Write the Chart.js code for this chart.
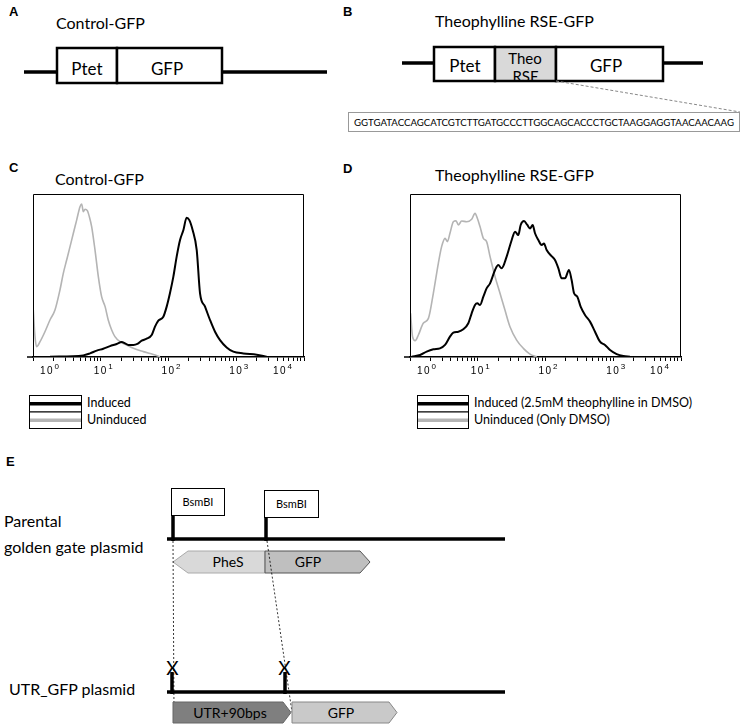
<!DOCTYPE html>
<html><head><meta charset="utf-8">
<script src="https://cdn.jsdelivr.net/npm/chart.js@4"></script>
<style>
body{margin:0;width:743px;height:727px;background:#fff;position:relative;overflow:hidden;font-family:Lato,sans-serif}
#art{position:absolute;left:0;top:0}
.chartbox{position:absolute;width:300px;height:197px}
.lab{font-family:"Liberation Sans",Arial,sans-serif;font-weight:bold;font-size:13px}
</style></head><body>
<svg id="art" width="743" height="727" xmlns="http://www.w3.org/2000/svg" font-family="Lato, sans-serif">
  <!-- Panel A -->
  <text class="lab" x="9" y="16">A</text>
  <text x="56" y="29" font-size="16">Control-GFP</text>
  <line x1="24" y1="72" x2="57" y2="72" stroke="#000" stroke-width="3.5"/>
  <line x1="222" y1="72" x2="327" y2="72" stroke="#000" stroke-width="3.5"/>
  <rect x="57" y="48" width="60" height="35" fill="#fff" stroke="#000" stroke-width="2.5"/>
  <rect x="117" y="48" width="105" height="35" fill="#fff" stroke="#000" stroke-width="2.5"/>
  <text x="87" y="75" font-size="17" text-anchor="middle">Ptet</text>
  <text x="167" y="75" font-size="17" text-anchor="middle">GFP</text>
  <!-- Panel B -->
  <text class="lab" x="343" y="16">B</text>
  <text x="435" y="27" font-size="16">Theophylline RSE-GFP</text>
  <line x1="402" y1="63" x2="434" y2="63" stroke="#000" stroke-width="3.5"/>
  <line x1="663" y1="63" x2="703" y2="63" stroke="#000" stroke-width="3.5"/>
  <rect x="434" y="47" width="61" height="34" fill="#fff" stroke="#000" stroke-width="2.5"/>
  <rect x="495" y="47" width="61" height="34" fill="#d9d9d9" stroke="#000" stroke-width="2.5"/>
  <rect x="556" y="47" width="107" height="34" fill="#fff" stroke="#000" stroke-width="2.5"/>
  <text x="465" y="72" font-size="17" text-anchor="middle">Ptet</text>
  <text x="525" y="64" font-size="15" text-anchor="middle">Theo</text>
  <svg x="496" y="48" width="59" height="32"><text x="29.5" y="34" font-size="15" text-anchor="middle">RSE</text></svg>
  <text x="606" y="72" font-size="17" text-anchor="middle">GFP</text>
  <line x1="556" y1="81" x2="740" y2="112" stroke="#888" stroke-width="1" stroke-dasharray="3,2"/>
  <rect x="348.5" y="112.5" width="391" height="19" fill="#fff" stroke="#999" stroke-width="1"/>
  <text id="seq" x="544" y="125.5" font-size="10" text-anchor="middle" textLength="380" lengthAdjust="spacingAndGlyphs">GGTGATACCAGCATCGTCTTGATGCCCTTGGCAGCACCCTGCTAAGGAGGTAACAACAAG</text>
  <!-- Panel C / D titles -->
  <text class="lab" x="9" y="172">C</text>
  <text x="55" y="185" font-size="16">Control-GFP</text>
  <text class="lab" x="343" y="173">D</text>
  <text x="435" y="181" font-size="16">Theophylline RSE-GFP</text>
  <g id="legends"></g>
  <!-- Panel E -->
  <text class="lab" x="6" y="466">E</text>
  <text x="4" y="527" font-size="16">Parental</text>
  <text x="4" y="553" font-size="16">golden gate plasmid</text>
  <line x1="167" y1="539" x2="505" y2="539" stroke="#000" stroke-width="3.5"/>
  <line x1="173" y1="515" x2="173" y2="541" stroke="#000" stroke-width="3.5"/>
  <line x1="266" y1="517" x2="266" y2="541" stroke="#000" stroke-width="3.5"/>
  <rect x="171.5" y="488.5" width="53" height="27" fill="#fff" stroke="#000" stroke-width="1"/>
  <rect x="264.5" y="490.5" width="54" height="27" fill="#fff" stroke="#000" stroke-width="1"/>
  <text x="198" y="506" font-size="11" text-anchor="middle">BsmBI</text>
  <text x="291.5" y="508" font-size="11" text-anchor="middle">BsmBI</text>
  <polygon points="173,562 188,551 265,551 265,573 188,573" fill="#d9d9d9" stroke="#aaa" stroke-width="1"/>
  <polygon points="265,551 360,551 370,562 360,573 265,573" fill="#bfbfbf" stroke="#555" stroke-width="1"/>
  <text x="228" y="567" font-size="14" text-anchor="middle">PheS</text>
  <text x="308" y="567" font-size="14" text-anchor="middle">GFP</text>
  <line x1="173" y1="541" x2="174" y2="712" stroke="#000" stroke-width="0.8" stroke-dasharray="2,2"/>
  <line x1="267" y1="541" x2="292" y2="712" stroke="#000" stroke-width="0.8" stroke-dasharray="2,2"/>
  <text x="9" y="695" font-size="16">UTR_GFP plasmid</text>
  <line x1="167" y1="692" x2="505" y2="692" stroke="#000" stroke-width="3.5"/>
  <line x1="172" y1="672" x2="172" y2="694" stroke="#000" stroke-width="3.5"/>
  <line x1="285" y1="672" x2="285" y2="694" stroke="#000" stroke-width="3.5"/>
  <text x="172.5" y="675" font-size="19" text-anchor="middle">X</text>
  <text x="284.5" y="675" font-size="19" text-anchor="middle">X</text>
  <polygon points="173,702 283,702 291,712.5 283,723 173,723" fill="#7f7f7f" stroke="#666" stroke-width="1"/>
  <polygon points="292,702 389,702 397,712.5 389,723 292,723" fill="#c9c9c9" stroke="#888" stroke-width="1"/>
  <text x="230" y="718" font-size="14" text-anchor="middle">UTR+90bps</text>
  <text x="341" y="718" font-size="14" text-anchor="middle">GFP</text>
</svg>
<div class="chartbox" style="left:20px;top:190px"><canvas id="c1" width="300" height="197"></canvas></div>
<div class="chartbox" style="left:397px;top:190px"><canvas id="c2" width="300" height="197"></canvas></div>
<script>
// ---- Data (x = fluorescence intensity, y = % of max count) ----
const DECADES = [1, 10, 100, 1000, 10000];
const TICK_BASE = '10';
const TICK_EXPONENTS = ['0', '1', '2', '3', '4'];
const SERIES_NAMES_C = ['Induced', 'Uninduced'];
const SERIES_NAMES_D = ['Induced (2.5mM theophylline in DMSO)', 'Uninduced (Only DMSO)'];

const C_INDUCED_X = [1.78,5.53,6.94,8.71,10.9,13.7,17.2,20.4,22.8,25.5,30.3,34.7,40.2,47.6,56.5,63.2,70.8,83.9,94.0,105,118,132,148,166,185,203,227,261,292,346,410,486,576,722,906,1273,2002,2811];
const C_INDUCED_Y = [0.2,1.0,2.2,3.9,5.1,6.7,8.0,9.2,8.4,7.4,7.4,8.0,10.0,11.2,13.5,18.6,22.3,24.7,30.9,39.1,49.3,61.6,71.8,77.9,85.5,84.0,77.9,65.6,39.1,30.9,22.7,15.5,10.4,5.9,3.3,2.2,1.4,0.2];
const C_UNINDUCED_X = [1.01,1.07,1.13,1.27,1.50,1.78,2.11,2.50,2.80,3.14,3.52,3.94,4.41,4.94,5.23,5.53,5.86,6.34,6.78,7.34,8.23,9.21,10.3,11.6,12.9,14.5,16.2,19.2,24.1,30.3,42.5,59.7,74.9];
const C_UNINDUCED_Y = [28.8,12.5,6.3,9.4,15.5,22.7,28.8,41.1,51.3,59.5,67.7,75.9,84.0,92.2,93.9,89.2,90.6,89.8,86.1,80.0,65.6,49.3,37.0,30.9,22.7,16.6,12.5,9.4,7.4,5.3,3.3,1.6,0.2];

const D_INDUCED_X = [1.06,1.41,1.76,2.21,2.77,3.29,3.89,4.36,5.17,6.12,7.26,8.13,9.11,9.86,10.8,12.1,13.5,15.2,18.0,20.1,22.5,26.7,31.7,35.5,39.7,43.0,48.2,53.9,59.0,64.7,70.0,78.4,87.8,95.0,104,123,138,155,173,194,222,243,264,295,330,383,454,538,637,755,896,1122,1409,1766];
const D_INDUCED_Y = [0.2,1.2,3.3,4.7,5.3,7.4,12.5,14.9,15.5,17.0,20.7,26.8,31.9,32.9,31.9,37.0,42.1,45.2,53.4,56.4,54.4,61.6,71.8,76.9,74.8,81.0,83.4,81.0,78.9,81.0,75.9,71.8,68.7,69.7,65.6,61.9,59.5,54.4,48.3,48.3,53.4,47.2,39.1,37.0,30.9,25.8,21.7,15.5,9.4,7.4,4.3,1.8,0.6,0.2];
const D_UNINDUCED_X = [1.02,1.09,1.19,1.33,1.57,1.87,2.21,2.62,2.93,3.29,3.56,3.89,4.36,4.78,5.17,5.79,6.86,8.13,9.11,9.86,10.8,12.1,13.5,15.2,18.0,21.3,25.2,29.9,37.5,47.1,59.0,74.1];
const D_UNINDUCED_Y = [26.8,12.5,10.0,13.5,20.7,23.7,39.1,57.5,67.7,72.8,70.8,75.9,83.0,83.6,81.0,83.4,83.0,84.5,88.1,85.1,80.0,72.8,70.8,61.6,49.3,39.1,28.8,18.6,10.4,5.3,1.8,0.2];

// ---- helpers ----
const zip = (xs, ys) => xs.map((x, i) => ({x, y: ys[i]}));
const TICK_VALUES = [];
DECADES.forEach((d, i) => { if (i < DECADES.length - 1) { for (let k = 1; k <= 9; k++) TICK_VALUES.push(k * d); } else TICK_VALUES.push(d); });
const isMajor = v => DECADES.some(d => Math.abs(d - v) < 1e-6 * d);

const frame = {
  id: 'frame',
  afterDraw(chart) {
    const {ctx, chartArea: a} = chart;
    const xs = chart.scales.x;
    ctx.save();
    ctx.strokeStyle = '#000'; ctx.lineWidth = 1;
    ctx.beginPath();
    ctx.moveTo(a.left + 0.5, a.bottom); ctx.lineTo(a.left + 0.5, a.top + 0.5);
    ctx.lineTo(a.right - 0.5, a.top + 0.5); ctx.lineTo(a.right - 0.5, a.bottom);
    ctx.stroke();
    ctx.lineWidth = 1.5;
    ctx.beginPath(); ctx.moveTo(a.left - 6, a.bottom); ctx.lineTo(a.left, a.bottom); ctx.stroke();
    // decade labels: "10" with a raised exponent, drawn at the scale's own pixel for each decade
    ctx.fillStyle = '#000'; ctx.textBaseline = 'alphabetic'; ctx.textAlign = 'left';
    const baseFont = '10px "Liberation Sans", Arial, sans-serif';
    const expFont = '8px "Liberation Sans", Arial, sans-serif';
    if ('letterSpacing' in ctx) ctx.letterSpacing = '1.5px';
    DECADES.forEach((d, i) => {
      const px = xs.getPixelForValue(d);
      ctx.font = baseFont; const w1 = ctx.measureText(TICK_BASE).width;
      ctx.font = expFont; const w2 = ctx.measureText(TICK_EXPONENTS[i]).width;
      let start = px - w1 / 2;
      if (i === 0) start = px + 7;
      if (i === DECADES.length - 1) start = px - 11 - (w1 + w2);
      const yb = a.bottom + 17;
      ctx.font = baseFont; ctx.fillText(TICK_BASE, start, yb);
      ctx.font = expFont; ctx.fillText(TICK_EXPONENTS[i], start + w1 + 0.5, yb - 5);
    });
    ctx.restore();
  }
};

function makeChart(id, names, indX, indY, unX, unY) {
  return new Chart(document.getElementById(id), {
    type: 'line',
    data: {
      datasets: [
        {label: names[0], data: zip(indX, indY), borderColor: '#000', borderWidth: 2, pointRadius: 0, cubicInterpolationMode: 'monotone', fill: false},
        {label: names[1], data: zip(unX, unY), borderColor: '#b4b4b4', borderWidth: 1.6, pointRadius: 0, cubicInterpolationMode: 'monotone', fill: false}
      ]
    },
    options: {
      responsive: false, animation: false, events: [],
      layout: {padding: {left: 13, right: 16, top: 4, bottom: 0}},
      plugins: {legend: {display: false}, tooltip: {enabled: false}},
      scales: {
        x: {
          type: 'logarithmic', min: DECADES[0], max: DECADES[DECADES.length - 1],
          afterBuildTicks: s => { s.ticks = TICK_VALUES.map(v => ({value: v})); },
          afterFit: s => { s.height = 30; },
          grid: {display: true, drawOnChartArea: false, drawTicks: true, tickLength: 4, tickColor: '#000', tickWidth: 1},
          border: {display: true, color: '#000', width: 1.5},
          ticks: {autoSkip: false, maxRotation: 0, minRotation: 0, callback: () => ''}
        },
        y: {display: false, min: 0, max: 100}
      }
    },
    plugins: [frame]
  });
}

const chartC = makeChart('c1', SERIES_NAMES_C, C_INDUCED_X, C_INDUCED_Y, C_UNINDUCED_X, C_UNINDUCED_Y);
const chartD = makeChart('c2', SERIES_NAMES_D, D_INDUCED_X, D_INDUCED_Y, D_UNINDUCED_X, D_UNINDUCED_Y);

// ---- legends built from the datasets ----
const NS = 'http://www.w3.org/2000/svg';
function el(tag, attrs, text) { const e = document.createElementNS(NS, tag); for (const k in attrs) e.setAttribute(k, attrs[k]); if (text) e.textContent = text; return e; }
function addLegend(chart, x, y, w) {
  const g = document.getElementById('legends');
  const rowH = 16.5;
  chart.data.datasets.forEach((ds, i) => {
    const ry = y + i * rowH;
    g.appendChild(el('rect', {x: x + 0.5, y: ry + 0.5, width: w, height: rowH, fill: '#fff', stroke: '#000', 'stroke-width': 1}));
    g.appendChild(el('line', {x1: x + 1, y1: ry + rowH / 2 + 0.5, x2: x + w, y2: ry + rowH / 2 + 0.5, stroke: i === 0 ? '#000' : '#b4b4b4', 'stroke-width': 3.5}));
    g.appendChild(el('text', {x: x + w + 6, y: ry + 12, 'font-size': 12.5}, ds.label));
  });
}
addLegend(chartC, 29, 395, 52);
addLegend(chartD, 417, 395, 51);
</script>
</body></html>
